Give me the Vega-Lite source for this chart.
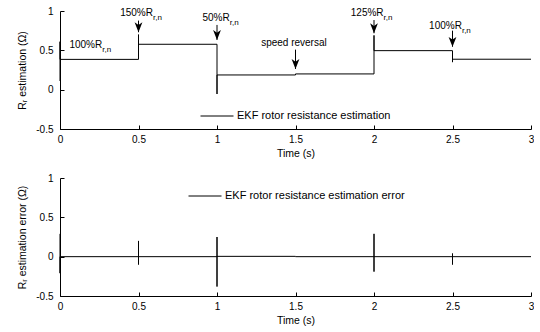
{
  "$schema": "https://vega.github.io/schema/vega-lite/v6.json",
  "padding": {"left": 17, "top": 6, "right": 0, "bottom": 0},
  "spacing": 14,
  "config": {
    "view": {"stroke": null},
    "font": "Liberation Sans",
    "axis": {
      "grid": false,
      "domainColor": "black",
      "tickColor": "black",
      "labelColor": "black",
      "titleColor": "black",
      "labelFontSize": 10,
      "titleFontSize": 10.5,
      "titleFontWeight": "normal",
      "tickSize": -4,
      "labelSeparation": 0,
      "labelBound": false
    },
    "legend": {"labelFontSize": 11, "labelColor": "black", "padding": 0, "labelLimit": 0}
  },
  "datasets": {
    "est": [
      {"i": 0, "t": 0, "r": 0.11, "s": "EKF rotor resistance estimation"},
      {"i": 1, "t": 0, "r": 0.61, "s": "EKF rotor resistance estimation"},
      {"i": 2, "t": 0, "r": 0.385, "s": "EKF rotor resistance estimation"},
      {"i": 3, "t": 0.5, "r": 0.385, "s": "EKF rotor resistance estimation"},
      {"i": 4, "t": 0.5, "r": 0.7, "s": "EKF rotor resistance estimation"},
      {"i": 5, "t": 0.5, "r": 0.577, "s": "EKF rotor resistance estimation"},
      {"i": 6, "t": 1, "r": 0.577, "s": "EKF rotor resistance estimation"},
      {"i": 7, "t": 1, "r": -0.055, "s": "EKF rotor resistance estimation"},
      {"i": 8, "t": 1, "r": 0.187, "s": "EKF rotor resistance estimation"},
      {"i": 9, "t": 1.5, "r": 0.187, "s": "EKF rotor resistance estimation"},
      {"i": 10, "t": 1.5, "r": 0.2, "s": "EKF rotor resistance estimation"},
      {"i": 11, "t": 2, "r": 0.2, "s": "EKF rotor resistance estimation"},
      {"i": 12, "t": 2, "r": 0.69, "s": "EKF rotor resistance estimation"},
      {"i": 13, "t": 2, "r": 0.496, "s": "EKF rotor resistance estimation"},
      {"i": 14, "t": 2.5, "r": 0.496, "s": "EKF rotor resistance estimation"},
      {"i": 15, "t": 2.5, "r": 0.35, "s": "EKF rotor resistance estimation"},
      {"i": 16, "t": 2.5, "r": 0.387, "s": "EKF rotor resistance estimation"},
      {"i": 17, "t": 3, "r": 0.387, "s": "EKF rotor resistance estimation"}
    ],
    "err": [
      {"i": 0, "t": 0, "e": 0.29, "s": "EKF rotor resistance estimation error"},
      {"i": 1, "t": 0, "e": -0.21, "s": "EKF rotor resistance estimation error"},
      {"i": 2, "t": 0, "e": 0, "s": "EKF rotor resistance estimation error"},
      {"i": 3, "t": 0.5, "e": 0, "s": "EKF rotor resistance estimation error"},
      {"i": 4, "t": 0.5, "e": 0.2, "s": "EKF rotor resistance estimation error"},
      {"i": 5, "t": 0.5, "e": -0.1, "s": "EKF rotor resistance estimation error"},
      {"i": 6, "t": 0.5, "e": 0, "s": "EKF rotor resistance estimation error"},
      {"i": 7, "t": 1, "e": 0, "s": "EKF rotor resistance estimation error"},
      {"i": 8, "t": 1, "e": 0.25, "s": "EKF rotor resistance estimation error"},
      {"i": 9, "t": 1, "e": -0.38, "s": "EKF rotor resistance estimation error"},
      {"i": 10, "t": 1, "e": 0.004, "s": "EKF rotor resistance estimation error"},
      {"i": 11, "t": 1.5, "e": 0.004, "s": "EKF rotor resistance estimation error"},
      {"i": 12, "t": 1.5, "e": 0, "s": "EKF rotor resistance estimation error"},
      {"i": 13, "t": 2, "e": 0, "s": "EKF rotor resistance estimation error"},
      {"i": 14, "t": 2, "e": 0.29, "s": "EKF rotor resistance estimation error"},
      {"i": 15, "t": 2, "e": -0.19, "s": "EKF rotor resistance estimation error"},
      {"i": 16, "t": 2, "e": 0, "s": "EKF rotor resistance estimation error"},
      {"i": 17, "t": 2.5, "e": 0, "s": "EKF rotor resistance estimation error"},
      {"i": 18, "t": 2.5, "e": 0.04, "s": "EKF rotor resistance estimation error"},
      {"i": 19, "t": 2.5, "e": -0.1, "s": "EKF rotor resistance estimation error"},
      {"i": 20, "t": 2.5, "e": 0, "s": "EKF rotor resistance estimation error"},
      {"i": 21, "t": 3, "e": 0, "s": "EKF rotor resistance estimation error"}
    ],
    "arrows": [
      {"t": 0.5, "top": 0.878, "tip": 0.73},
      {"t": 1, "top": 0.823, "tip": 0.632},
      {"t": 1.5, "top": 0.509, "tip": 0.263},
      {"t": 2, "top": 0.885, "tip": 0.717},
      {"t": 2.5, "top": 0.75, "tip": 0.545}
    ],
    "labels": [
      {"t": 0.269, "v": 0.53, "main": "100%R", "sub": "r,n"},
      {"t": 0.592, "v": 0.941, "main": "150%R", "sub": "r,n"},
      {"t": 1.081, "v": 0.878, "main": "50%R", "sub": "r,n"},
      {"t": 2.061, "v": 0.94, "main": "125%R", "sub": "r,n"},
      {"t": 2.56, "v": 0.772, "main": "100%R", "sub": "r,n"}
    ],
    "notes": [
      {"t": 1.49, "v": 0.56, "text": "speed reversal"}
    ]
  },
  "vconcat": [
    {
      "width": 471,
      "height": 118,
      "layer": [
        {
          "data": {"name": "est"},
          "mark": {"type": "line", "strokeWidth": 1},
          "encoding": {
            "x": {"field": "t", "type": "quantitative", "scale": {"domain": [0, 3], "nice": false},
              "axis": {"values": [0, 0.5, 1, 1.5, 2, 2.5, 3], "tickCount": 12, "labelExpr": "'' + datum.value", "labelPadding": 9, "labelFlush": false, "labelOverlap": false, "title": "Time (s)", "titlePadding": 4}},
            "y": {"field": "r", "type": "quantitative", "scale": {"domain": [-0.5, 1], "nice": false, "zero": false},
              "axis": {"values": [-0.5, 0, 0.5, 1], "tickCount": 12, "labelExpr": "'' + datum.value", "labelPadding": 11, "labelFlush": false, "labelOverlap": false, "title": "Rᵣ estimation (Ω)", "titlePadding": 8}},
            "order": {"field": "i"},
            "color": {"field": "s", "type": "nominal", "scale": {"range": ["black"]},
              "legend": {"title": null, "orient": "none", "legendX": 140, "legendY": 88, "symbolType": "stroke", "symbolSize": 1089, "symbolStrokeWidth": 1, "symbolStrokeColor": "black", "labelOffset": 3}}
          }
        },
        {
          "data": {"name": "arrows"},
          "mark": {"type": "rule", "color": "black", "strokeWidth": 1},
          "encoding": {
            "x": {"field": "t", "type": "quantitative"},
            "y": {"field": "top", "type": "quantitative"},
            "y2": {"field": "tip"}
          }
        },
        {
          "data": {"name": "arrows"},
          "mark": {"type": "point", "shape": "M-1.3,-3.3L0,0L1.3,-3.3L0,-2.4Z", "filled": true, "color": "black", "opacity": 1, "size": 36},
          "encoding": {
            "x": {"field": "t", "type": "quantitative"},
            "y": {"field": "tip", "type": "quantitative"}
          }
        },
        {
          "data": {"name": "labels"},
          "mark": {"type": "text", "align": "right", "baseline": "alphabetic", "fontSize": 10, "color": "black"},
          "encoding": {
            "x": {"field": "t", "type": "quantitative"},
            "y": {"field": "v", "type": "quantitative"},
            "text": {"field": "main"}
          }
        },
        {
          "data": {"name": "labels"},
          "mark": {"type": "text", "align": "left", "baseline": "alphabetic", "fontSize": 8, "dy": 4, "color": "black"},
          "encoding": {
            "x": {"field": "t", "type": "quantitative"},
            "y": {"field": "v", "type": "quantitative"},
            "text": {"field": "sub"}
          }
        },
        {
          "data": {"name": "notes"},
          "mark": {"type": "text", "align": "center", "baseline": "alphabetic", "fontSize": 10, "color": "black"},
          "encoding": {
            "x": {"field": "t", "type": "quantitative"},
            "y": {"field": "v", "type": "quantitative"},
            "text": {"field": "text"}
          }
        }
      ]
    },
    {
      "width": 471,
      "height": 118,
      "data": {"name": "err"},
      "mark": {"type": "line", "strokeWidth": 1},
      "encoding": {
        "x": {"field": "t", "type": "quantitative", "scale": {"domain": [0, 3], "nice": false},
          "axis": {"values": [0, 0.5, 1, 1.5, 2, 2.5, 3], "tickCount": 12, "labelExpr": "'' + datum.value", "labelPadding": 9, "labelFlush": false, "labelOverlap": false, "title": "Time (s)", "titlePadding": 4}},
        "y": {"field": "e", "type": "quantitative", "scale": {"domain": [-0.5, 1], "nice": false, "zero": false},
          "axis": {"tickCount": 4, "labelExpr": "'' + datum.value", "labelPadding": 11, "labelFlush": false, "labelOverlap": false, "title": "Rᵣ estimation error (Ω)", "titlePadding": 8}},
        "order": {"field": "i"},
        "color": {"field": "s", "type": "nominal", "scale": {"range": ["black"]},
          "legend": {"title": null, "orient": "none", "legendX": 128, "legendY": 1, "symbolType": "stroke", "symbolSize": 1089, "symbolStrokeWidth": 1, "symbolStrokeColor": "black", "labelOffset": 3}}
      }
    }
  ],
  "resolve": {"scale": {"color": "independent", "x": "independent", "y": "independent"}, "legend": {"color": "independent"}}
}
